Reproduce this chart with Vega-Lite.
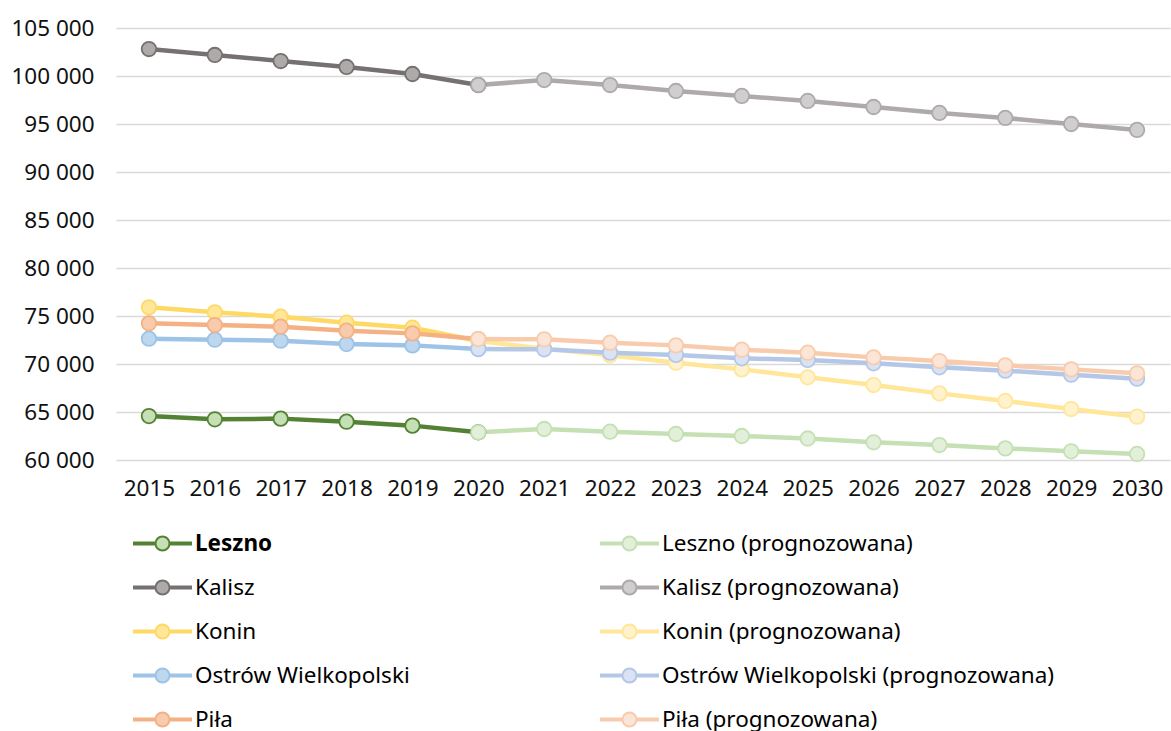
{
  "$schema": "https://vega.github.io/schema/vega-lite/v6.json",
  "autosize": {"type": "none"},
  "width": 1054,
  "height": 432,
  "padding": {"left": 116, "top": 28, "right": 1, "bottom": 271},
  "background": "white",
  "config": {
    "view": {"stroke": null},
    "font": "Noto Sans"
  },
  "data": {"values": [
    {"series": "Leszno", "year": "2015", "value": 64580},
    {"series": "Leszno", "year": "2016", "value": 64240},
    {"series": "Leszno", "year": "2017", "value": 64310},
    {"series": "Leszno", "year": "2018", "value": 63990},
    {"series": "Leszno", "year": "2019", "value": 63580},
    {"series": "Leszno", "year": "2020", "value": 62880},
    {"series": "Kalisz", "year": "2015", "value": 102810},
    {"series": "Kalisz", "year": "2016", "value": 102190},
    {"series": "Kalisz", "year": "2017", "value": 101560},
    {"series": "Kalisz", "year": "2018", "value": 100940},
    {"series": "Kalisz", "year": "2019", "value": 100210},
    {"series": "Kalisz", "year": "2020", "value": 99060},
    {"series": "Konin", "year": "2015", "value": 75900},
    {"series": "Konin", "year": "2016", "value": 75380},
    {"series": "Konin", "year": "2017", "value": 74930},
    {"series": "Konin", "year": "2018", "value": 74300},
    {"series": "Konin", "year": "2019", "value": 73780},
    {"series": "Konin", "year": "2020", "value": 72400},
    {"series": "Ostrów Wielkopolski", "year": "2015", "value": 72640},
    {"series": "Ostrów Wielkopolski", "year": "2016", "value": 72530},
    {"series": "Ostrów Wielkopolski", "year": "2017", "value": 72430},
    {"series": "Ostrów Wielkopolski", "year": "2018", "value": 72080},
    {"series": "Ostrów Wielkopolski", "year": "2019", "value": 71940},
    {"series": "Ostrów Wielkopolski", "year": "2020", "value": 71560},
    {"series": "Piła", "year": "2015", "value": 74240},
    {"series": "Piła", "year": "2016", "value": 74060},
    {"series": "Piła", "year": "2017", "value": 73890},
    {"series": "Piła", "year": "2018", "value": 73470},
    {"series": "Piła", "year": "2019", "value": 73190},
    {"series": "Piła", "year": "2020", "value": 72600},
    {"series": "Leszno (prognozowana)", "year": "2020", "value": 62880},
    {"series": "Leszno (prognozowana)", "year": "2021", "value": 63230},
    {"series": "Leszno (prognozowana)", "year": "2022", "value": 62950},
    {"series": "Leszno (prognozowana)", "year": "2023", "value": 62710},
    {"series": "Leszno (prognozowana)", "year": "2024", "value": 62500},
    {"series": "Leszno (prognozowana)", "year": "2025", "value": 62240},
    {"series": "Leszno (prognozowana)", "year": "2026", "value": 61840},
    {"series": "Leszno (prognozowana)", "year": "2027", "value": 61560},
    {"series": "Leszno (prognozowana)", "year": "2028", "value": 61210},
    {"series": "Leszno (prognozowana)", "year": "2029", "value": 60900},
    {"series": "Leszno (prognozowana)", "year": "2030", "value": 60630},
    {"series": "Kalisz (prognozowana)", "year": "2020", "value": 99060},
    {"series": "Kalisz (prognozowana)", "year": "2021", "value": 99580},
    {"series": "Kalisz (prognozowana)", "year": "2022", "value": 99060},
    {"series": "Kalisz (prognozowana)", "year": "2023", "value": 98440},
    {"series": "Kalisz (prognozowana)", "year": "2024", "value": 97920},
    {"series": "Kalisz (prognozowana)", "year": "2025", "value": 97400},
    {"series": "Kalisz (prognozowana)", "year": "2026", "value": 96770},
    {"series": "Kalisz (prognozowana)", "year": "2027", "value": 96150},
    {"series": "Kalisz (prognozowana)", "year": "2028", "value": 95630},
    {"series": "Kalisz (prognozowana)", "year": "2029", "value": 95000},
    {"series": "Kalisz (prognozowana)", "year": "2030", "value": 94380},
    {"series": "Konin (prognozowana)", "year": "2020", "value": 72400},
    {"series": "Konin (prognozowana)", "year": "2021", "value": 71600},
    {"series": "Konin (prognozowana)", "year": "2022", "value": 70900},
    {"series": "Konin (prognozowana)", "year": "2023", "value": 70140},
    {"series": "Konin (prognozowana)", "year": "2024", "value": 69440},
    {"series": "Konin (prognozowana)", "year": "2025", "value": 68610},
    {"series": "Konin (prognozowana)", "year": "2026", "value": 67810},
    {"series": "Konin (prognozowana)", "year": "2027", "value": 66940},
    {"series": "Konin (prognozowana)", "year": "2028", "value": 66150},
    {"series": "Konin (prognozowana)", "year": "2029", "value": 65310},
    {"series": "Konin (prognozowana)", "year": "2030", "value": 64510},
    {"series": "Ostrów Wielkopolski (prognozowana)", "year": "2020", "value": 71560},
    {"series": "Ostrów Wielkopolski (prognozowana)", "year": "2021", "value": 71530},
    {"series": "Ostrów Wielkopolski (prognozowana)", "year": "2022", "value": 71180},
    {"series": "Ostrów Wielkopolski (prognozowana)", "year": "2023", "value": 70940},
    {"series": "Ostrów Wielkopolski (prognozowana)", "year": "2024", "value": 70590},
    {"series": "Ostrów Wielkopolski (prognozowana)", "year": "2025", "value": 70420},
    {"series": "Ostrów Wielkopolski (prognozowana)", "year": "2026", "value": 70070},
    {"series": "Ostrów Wielkopolski (prognozowana)", "year": "2027", "value": 69650},
    {"series": "Ostrów Wielkopolski (prognozowana)", "year": "2028", "value": 69300},
    {"series": "Ostrów Wielkopolski (prognozowana)", "year": "2029", "value": 68890},
    {"series": "Ostrów Wielkopolski (prognozowana)", "year": "2030", "value": 68470},
    {"series": "Piła (prognozowana)", "year": "2020", "value": 72600},
    {"series": "Piła (prognozowana)", "year": "2021", "value": 72570},
    {"series": "Piła (prognozowana)", "year": "2022", "value": 72220},
    {"series": "Piła (prognozowana)", "year": "2023", "value": 71940},
    {"series": "Piła (prognozowana)", "year": "2024", "value": 71490},
    {"series": "Piła (prognozowana)", "year": "2025", "value": 71180},
    {"series": "Piła (prognozowana)", "year": "2026", "value": 70690},
    {"series": "Piła (prognozowana)", "year": "2027", "value": 70310},
    {"series": "Piła (prognozowana)", "year": "2028", "value": 69860},
    {"series": "Piła (prognozowana)", "year": "2029", "value": 69440},
    {"series": "Piła (prognozowana)", "year": "2030", "value": 69030}
  ]},
  "encoding": {
    "x": {
      "field": "year", "type": "ordinal",
      "scale": {"type": "point", "padding": 0.5},
      "axis": {
        "title": null, "labelAngle": 0, "labelFontSize": 22.5, "labelColor": "#111111",
        "domain": false, "ticks": false, "labelPadding": 17, "grid": false
      }
    },
    "y": {
      "field": "value", "type": "quantitative",
      "scale": {"domain": [60000, 105000], "nice": false, "zero": false},
      "axis": {
        "title": null, "values": [60000, 65000, 70000, 75000, 80000, 85000, 90000, 95000, 100000, 105000],
        "labelExpr": "replace(format(datum.value, ','), ',', ' ')",
        "labelFontSize": 22.5, "labelColor": "#111111", "labelPadding": 22,
        "domain": false, "ticks": false,
        "grid": true, "gridColor": "#d9d9d9", "gridWidth": 1.5
      }
    }
  },
  "layer": [
    {
      "mark": {"type": "line", "strokeWidth": 4.5, "strokeCap": "round", "strokeJoin": "round"},
      "encoding": {
        "stroke": {
          "field": "series", "type": "nominal",
          "scale": {
            "domain": ["Leszno", "Leszno (prognozowana)", "Kalisz", "Kalisz (prognozowana)", "Konin", "Konin (prognozowana)", "Ostrów Wielkopolski", "Ostrów Wielkopolski (prognozowana)", "Piła", "Piła (prognozowana)"],
            "range": ["#548235", "#c5e0b4", "#767171", "#aeaaaa", "#ffd966", "#ffe699", "#9dc3e6", "#b4c7e7", "#f4b183", "#f8cbad"]
          },
          "legend": {
            "title": null, "orient": "none", "legendX": 17, "legendY": 486, "direction": "horizontal",
            "columns": 2, "columnPadding": 187, "rowPadding": 3,
            "symbolType": "M-1,-0.035H-0.25V0.035H-1Z M0.25,-0.035H1V0.035H0.25Z M-0.245,0A0.245,0.245 0 1,0 0.245,0A0.245,0.245 0 1,0 -0.245,0Z",
            "symbolSize": 3249, "symbolStrokeWidth": 2, "symbolOpacity": 1,
            "labelFontSize": 22.5, "labelColor": "#000000", "labelOffset": 3, "labelLimit": 500,
            "encode": {"labels": {"update": {"fontWeight": {"signal": "datum.value == 'Leszno' ? 'bold' : 'normal'"}}}}
          }
        },
        "detail": {"field": "series"}
      }
    },
    {
      "mark": {"type": "point", "shape": "circle", "size": 210, "strokeWidth": 1.8, "opacity": 1},
      "encoding": {
        "stroke": {"field": "series", "type": "nominal"},
        "fill": {
          "field": "series", "type": "nominal",
          "scale": {
            "domain": ["Leszno", "Leszno (prognozowana)", "Kalisz", "Kalisz (prognozowana)", "Konin", "Konin (prognozowana)", "Ostrów Wielkopolski", "Ostrów Wielkopolski (prognozowana)", "Piła", "Piła (prognozowana)"],
            "range": ["#c5e0b4", "#e2f0d9", "#aeaaaa", "#d0cece", "#ffe699", "#fff2cc", "#bdd7ee", "#dae3f3", "#f8cbad", "#fbe5d6"]
          },
          "legend": {
            "title": null, "orient": "none", "legendX": 17, "legendY": 486, "direction": "horizontal",
            "columns": 2, "columnPadding": 187, "rowPadding": 3,
            "symbolType": "M-1,-0.035H-0.25V0.035H-1Z M0.25,-0.035H1V0.035H0.25Z M-0.245,0A0.245,0.245 0 1,0 0.245,0A0.245,0.245 0 1,0 -0.245,0Z",
            "symbolSize": 3249, "symbolStrokeWidth": 2, "symbolOpacity": 1,
            "labelFontSize": 22.5, "labelColor": "#000000", "labelOffset": 3, "labelLimit": 500,
            "encode": {"labels": {"update": {"fontWeight": {"signal": "datum.value == 'Leszno' ? 'bold' : 'normal'"}}}}
          }
        }
      }
    }
  ]
}
